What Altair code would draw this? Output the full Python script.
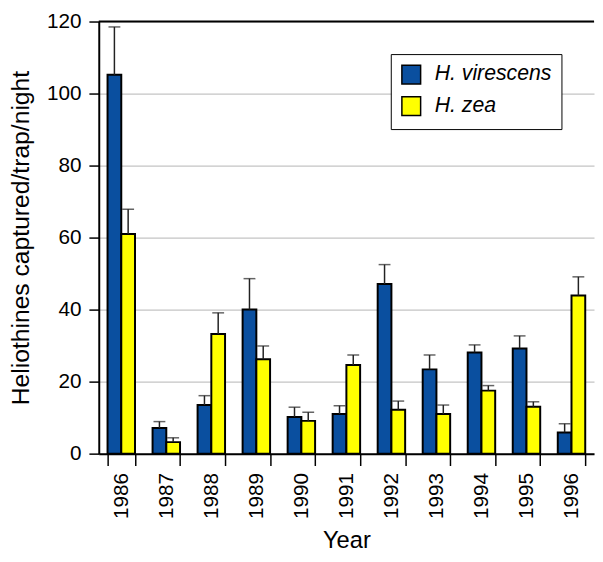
import altair as alt
import pandas as pd

years = ["1986", "1987", "1988", "1989", "1990", "1991", "1992", "1993", "1994", "1995", "1996"]
species = ["H. virescens", "H. zea"]
virescens_mean = [105.2, 7.1, 13.5, 40.0, 10.2, 11.0, 47.1, 23.4, 28.1, 29.2, 5.9]
virescens_se = [13.3, 1.8, 2.6, 8.6, 2.7, 2.3, 5.4, 4.0, 2.1, 3.5, 2.4]
zea_mean = [61.0, 3.2, 33.2, 26.2, 9.1, 24.6, 12.2, 11.0, 17.5, 13.0, 43.9]
zea_se = [6.9, 1.2, 5.9, 3.7, 2.4, 2.8, 2.4, 2.5, 1.4, 1.4, 5.2]
colors = ["#0A4F9F", "#FFFF00"]
y_ticks = [0, 20, 40, 60, 80, 100, 120]

rows = []
for i, yr in enumerate(years):
    rows.append({"year": yr, "species": species[0], "mean": virescens_mean[i],
                 "upper": virescens_mean[i] + virescens_se[i]})
    rows.append({"year": yr, "species": species[1], "mean": zea_mean[i],
                 "upper": zea_mean[i] + zea_se[i]})
df = pd.DataFrame(rows)

FONT = "Arial, Liberation Sans, sans-serif"

x_enc = alt.X(
    "year:N",
    sort=years,
    scale=alt.Scale(paddingInner=0.39, paddingOuter=0.195),
    axis=alt.Axis(
        title="Year", labelAngle=270, tickBand="extent", tickSize=12,
        labelPadding=7, titlePadding=10, titleFontSize=24, grid=False,
    ),
)
xoff_enc = alt.XOffset("species:N", sort=species,
                       scale=alt.Scale(domain=species, paddingInner=0, paddingOuter=0))
y_scale = alt.Scale(domain=[0, 120], nice=False)

base = alt.Chart(df).encode(x=x_enc, xOffset=xoff_enc)

bars = base.mark_bar(stroke="black", strokeWidth=2).encode(
    y=alt.Y("mean:Q", scale=y_scale,
            axis=alt.Axis(title="Heliothines captured/trap/night", values=y_ticks,
                          tickSize=10, labelPadding=8, titlePadding=13, titleFontSize=25,
                          grid=True)),
    color=alt.Color("species:N", sort=species,
                    scale=alt.Scale(domain=species, range=colors),
                    legend=alt.Legend(title=None, orient="none", legendX=296, legendY=33)),
)

rules = base.mark_rule(color="#222222", strokeWidth=1.5).encode(
    y=alt.Y("mean:Q", scale=y_scale),
    y2="upper:Q",
)

caps = base.mark_tick(color="#222222", thickness=1.5, size=12).encode(
    y=alt.Y("upper:Q", scale=y_scale),
)

top = alt.Chart(pd.DataFrame({"v": [120]})).mark_rule(color="black", strokeWidth=2).encode(
    y=alt.Y("v:Q", scale=y_scale)
)

chart = alt.layer(bars, rules, caps, top).properties(
    width=502, height=438,
    autosize=alt.AutoSizeParams(type="none"),
    padding={"left": 92, "top": 10, "right": 1, "bottom": 98},
).configure_view(stroke=None).configure_axis(
    labelFont=FONT, titleFont=FONT, labelFontSize=21,
    labelColor="black", titleColor="black", titleFontWeight="normal",
    domainColor="black", domainWidth=2, tickColor="black", tickWidth=1.5,
    gridColor="#c4c4c4", gridWidth=1.2,
).configure_legend(
    labelFont=FONT, labelFontSize=21.5, labelFontStyle="italic", labelColor="black",
    symbolType="square", symbolSize=361, symbolStrokeColor="black", symbolStrokeWidth=1.5,
    strokeColor="black", fillColor="white", padding=10, rowPadding=6, labelOffset=13,
    symbolOpacity=1,
)

chart.save("out.html", embed_options={"renderer": "svg", "actions": False})
